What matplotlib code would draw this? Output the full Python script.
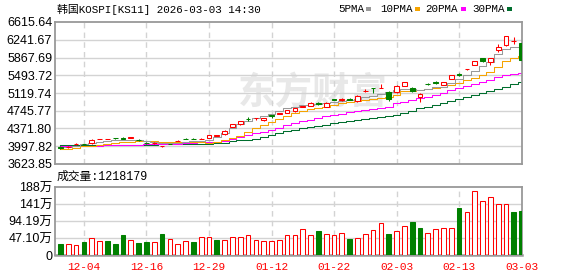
import matplotlib
matplotlib.use('Agg')
import matplotlib.pyplot as plt
import numpy as np

# trading days shown on the chart
dates = ['12-01', '12-02', '12-03', '12-04', '12-05', '12-08', '12-09', '12-10', '12-11', '12-12',
         '12-15', '12-16', '12-17', '12-18', '12-19', '12-22', '12-23', '12-24', '12-26', '12-29',
         '12-30', '01-02', '01-05', '01-06', '01-07', '01-08', '01-09', '01-12', '01-13', '01-14',
         '01-15', '01-16', '01-19', '01-20', '01-21', '01-22', '01-23', '01-26', '01-27', '01-28',
         '01-29', '01-30', '02-02', '02-03', '02-04', '02-05', '02-06', '02-09', '02-10', '02-11',
         '02-12', '02-13', '02-19', '02-20', '02-23', '02-24', '02-25', '02-26', '02-27', '03-03']

opens = [3985, 3975, 4040, 4050, 4060, 4148, 4150, 4172, 4181, 4175,
         4140, 4075, 4060, 3998, 4050, 4105, 4158, 4160, 4150, 4181,
         4215, 4255, 4406, 4468, 4580, 4585, 4541, 4648, 4686, 4698,
         4733, 4830, 4848, 4902, 4835, 4992, 4980, 4990, 4950, 5162,
         5225, 5218, 5134, 5142, 5277, 5229, 5031, 5310, 5358, 5291,
         5420, 5518, 5615, 5713, 5848, 5780, 6020, 6128, 6205, 6163]
highs = [4000, 4000, 4060, 4055, 4145, 4160, 4158, 4175, 4185, 4190,
         4145, 4080, 4080, 4010, 4055, 4125, 4162, 4165, 4165, 4240,
         4235, 4330, 4465, 4535, 4620, 4600, 4600, 4650, 4705, 4760,
         4805, 4850, 4922, 4940, 4925, 4998, 5010, 5005, 5070, 5195,
         5228, 5300, 5160, 5280, 5362, 5245, 5110, 5330, 5365, 5350,
         5505, 5545, 5635, 5792, 5860, 5860, 6150, 6320, 6310, 6170]
lows = [3945, 3965, 4030, 4025, 4055, 4145, 4148, 4160, 4142, 4170,
        4115, 4050, 4055, 3990, 4035, 4100, 4145, 4142, 4145, 4175,
        4210, 4245, 4395, 4450, 4540, 4545, 4535, 4600, 4680, 4690,
        4725, 4825, 4840, 4860, 4825, 4972, 4960, 4965, 4930, 5150,
        5115, 5215, 4960, 5120, 5270, 5140, 4925, 5285, 5315, 5280,
        5410, 5480, 5610, 5700, 5780, 5700, 5975, 6120, 6150, 5800]
closes = [3965, 3990, 4050, 4035, 4140, 4158, 4155, 4162, 4147, 4185,
          4120, 4060, 4070, 4005, 4040, 4118, 4150, 4148, 4158, 4235,
          4228, 4325, 4460, 4530, 4572, 4595, 4596, 4640, 4698, 4753,
          4800, 4842, 4917, 4893, 4917, 4978, 4990, 4980, 5066, 5172,
          5218, 5226, 4985, 5277, 5358, 5160, 5107, 5300, 5325, 5346,
          5502, 5508, 5630, 5787, 5793, 5855, 6088, 6313, 6215, 5816]

ma5 = [3977, 3990, 4010, 4040, 4065, 4090, 4105, 4120, 4135, 4140,
       4135, 4110, 4085, 4065, 4060, 4070, 4090, 4110, 4115, 4133,
       4200, 4280, 4380, 4470, 4540, 4585, 4630, 4680, 4735, 4794,
       4830, 4862, 4875, 4890, 4905, 4935, 4955, 4975, 4990, 5030,
       5066, 5100, 5134, 5175, 5209, 5200, 5189, 5210, 5236, 5250,
       5340, 5420, 5500, 5590, 5680, 5780, 5938, 6041, 6088, 6088]
ma10 = [3943, 3950, 3965, 3998, 4010, 4025, 4045, 4060, 4080, 4090,
        4100, 4105, 4100, 4095, 4090, 4085, 4085, 4080, 4080, 4075,
        4090, 4120, 4170, 4220, 4300, 4372, 4440, 4508, 4575, 4643,
        4690, 4745, 4780, 4810, 4835, 4870, 4903, 4925, 4950, 4975,
        4998, 5020, 5040, 5080, 5154, 5170, 5189, 5205, 5223, 5250,
        5291, 5340, 5390, 5440, 5490, 5560, 5665, 5787, 5848, 5889]
ma20 = [4000, 4000, 4005, 4008, 4010, 4012, 4015, 4018, 4020, 4025,
        4030, 4035, 4040, 4045, 4050, 4055, 4062, 4070, 4078, 4085,
        4095, 4110, 4150, 4185, 4225, 4270, 4305, 4337, 4390, 4439,
        4485, 4528, 4560, 4600, 4625, 4665, 4685, 4710, 4730, 4755,
        4780, 4808, 4835, 4900, 4929, 4965, 5005, 5045, 5087, 5130,
        5180, 5220, 5270, 5310, 5350, 5390, 5450, 5495, 5530, 5550]
ma30 = [4020, 4020, 4022, 4022, 4024, 4025, 4025, 4027, 4028, 4030,
        4030, 4032, 4033, 4035, 4036, 4038, 4040, 4042, 4043, 4045,
        4060, 4075, 4100, 4120, 4135, 4153, 4190, 4235, 4275, 4316,
        4350, 4386, 4405, 4430, 4450, 4480, 4500, 4525, 4545, 4565,
        4590, 4615, 4643, 4665, 4698, 4745, 4794, 4830, 4868, 4910,
        4955, 4990, 5040, 5070, 5110, 5154, 5210, 5256, 5300, 5346]

# volume in 万
volumes = [30, 30, 28, 36, 47, 39, 39, 30, 55, 41,
           33, 36, 36, 58, 44, 30, 39, 36, 50, 50,
           41, 41, 50, 50, 55, 41, 39, 39, 41, 55,
           55, 72, 55, 66, 58, 55, 61, 44, 47, 58,
           69, 88, 58, 66, 80, 91, 75, 61, 72, 75,
           75, 130, 119, 177, 149, 160, 141, 141, 119, 121.8]
# True = red (up), False = green
vol_up = [0, 1, 1, 0, 1, 1, 0, 0, 0, 1,
          0, 0, 1, 0, 1, 1, 1, 0, 1, 1,
          0, 1, 1, 1, 1, 1, 1, 1, 1, 1,
          1, 1, 1, 0, 1, 1, 1, 0, 1, 1,
          1, 1, 0, 1, 1, 0, 0, 1, 1, 1,
          1, 0, 1, 1, 1, 1, 1, 1, 0, 0]

price_labels = ['3623.85', '3997.82', '4371.80', '4745.77', '5119.74',
                '5493.72', '5867.69', '6241.67', '6615.64']
vol_ticks = [0, 47.10, 94.19, 141, 188]
vol_labels = ['0', '47.10万', '94.19万', '141万', '188万']

ma_names = ['5PMA', '10PMA', '20PMA', '30PMA']
ma_colors = ['#999999', '#f5a300', '#ff00ff', '#006e2e']

RED = '#ff0000'
GREEN = '#008000'
GRID = '#d3d3d3'
FRAME = '#999999'

W, H = 578, 276
fig = plt.figure(figsize=(W / 100, H / 100), dpi=100)
fig.patch.set_facecolor('white')


def rect(left, top, right, bottom):
    return [left / W, 1 - bottom / H, (right - left) / W, (bottom - top) / H]


ax = fig.add_axes(rect(55, 22, 522, 164))
axv = fig.add_axes(rect(55, 187, 522, 255))

x = np.arange(len(dates))
tick_idx = x[3::8]
lw = 0.75

for a in (ax, axv):
    a.set_xlim(-0.7, len(dates) - 0.95)
    for s in a.spines.values():
        s.set_color(FRAME)
        s.set_linewidth(1.3)
    a.tick_params(length=0)
    for i in tick_idx:
        a.axvline(i, color=GRID, lw=1, ls=(0, (4, 3)), zorder=0.5)

# ---- price panel
ymin, ymax = float(price_labels[0]), float(price_labels[-1])
ax.set_ylim(ymin, ymax)
ax.set_yticks([float(v) for v in price_labels])
ax.set_yticklabels(price_labels, fontsize=9, family='Liberation Sans')
ax.tick_params(axis='y', pad=2)
ax.set_xticks([])
for v in price_labels[1:-1]:
    ax.axhline(float(v), color=GRID, lw=1, zorder=0.5)

ax.text(0.553, 0.5, '东方财富', transform=ax.transAxes, ha='center', va='center',
        fontsize=27, fontweight='bold', color='#e8e8e8', family='Noto Sans CJK SC', zorder=0.3)

for vals, c in zip([ma30, ma20, ma10, ma5], ma_colors[::-1]):
    ax.plot(x, vals, color=c, lw=lw, drawstyle='steps-mid', zorder=2)

bw = 0.6
for i in x:
    o, h, l, c = opens[i], highs[i], lows[i], closes[i]
    up = c >= o
    col = RED if up else GREEN
    lo, hi = min(o, c), max(o, c)
    body = max(hi - lo, 8)
    ax.vlines(i, hi, h, color=col, lw=lw, zorder=3)
    ax.vlines(i, l, lo, color=col, lw=lw, zorder=3)
    ax.bar(i, body, bottom=lo, width=bw, facecolor='white' if up else col,
           edgecolor=col, linewidth=lw, zorder=4)

# title and legend
fig.text(57 / W, 1 - 9 / H, '韩国KOSPI[KS11] 2026-03-03 14:30', ha='left', va='center',
         fontsize=7.8, family=['Liberation Mono', 'Noto Sans CJK SC'])
leg_text_x = [338, 380, 425, 472]
leg_box_x = [366, 415, 461, 507]
for lx, bx, name, c in zip(leg_text_x, leg_box_x, ma_names, ma_colors):
    fig.text(lx / W, 1 - 9 / H, name, ha='left', va='center', fontsize=7.8,
             family='Liberation Mono')
    fig.patches.append(plt.Rectangle((bx / W, 1 - 11 / H), 5 / W, 4 / H,
                                     transform=fig.transFigure, facecolor=c, edgecolor='none'))

# ---- volume panel
axv.set_ylim(0, vol_ticks[-1])
axv.set_yticks(vol_ticks)
axv.set_yticklabels(vol_labels, fontsize=9, family=['Liberation Sans', 'Noto Sans CJK SC'])
axv.tick_params(axis='y', pad=2)
for v in vol_ticks[1:-1]:
    axv.axhline(v, color=GRID, lw=1, zorder=0.5)
for i in x:
    col = RED if vol_up[i] else GREEN
    axv.bar(i, volumes[i], width=bw, facecolor='white' if vol_up[i] else col,
            edgecolor=col, linewidth=lw, zorder=3)
axv.set_xticks(tick_idx)
axv.set_xticklabels([dates[i] for i in tick_idx], fontsize=8, color=RED,
                    family='Liberation Mono')
axv.tick_params(axis='x', pad=5)
axv.spines['bottom'].set_linewidth(1.8)

fig.text(57 / W, 1 - 177 / H, '成交量:1218179', ha='left', va='center', fontsize=8.5,
         family=['Liberation Mono', 'Noto Sans CJK SC'])

fig.savefig('out.png', dpi=100, facecolor='white')
